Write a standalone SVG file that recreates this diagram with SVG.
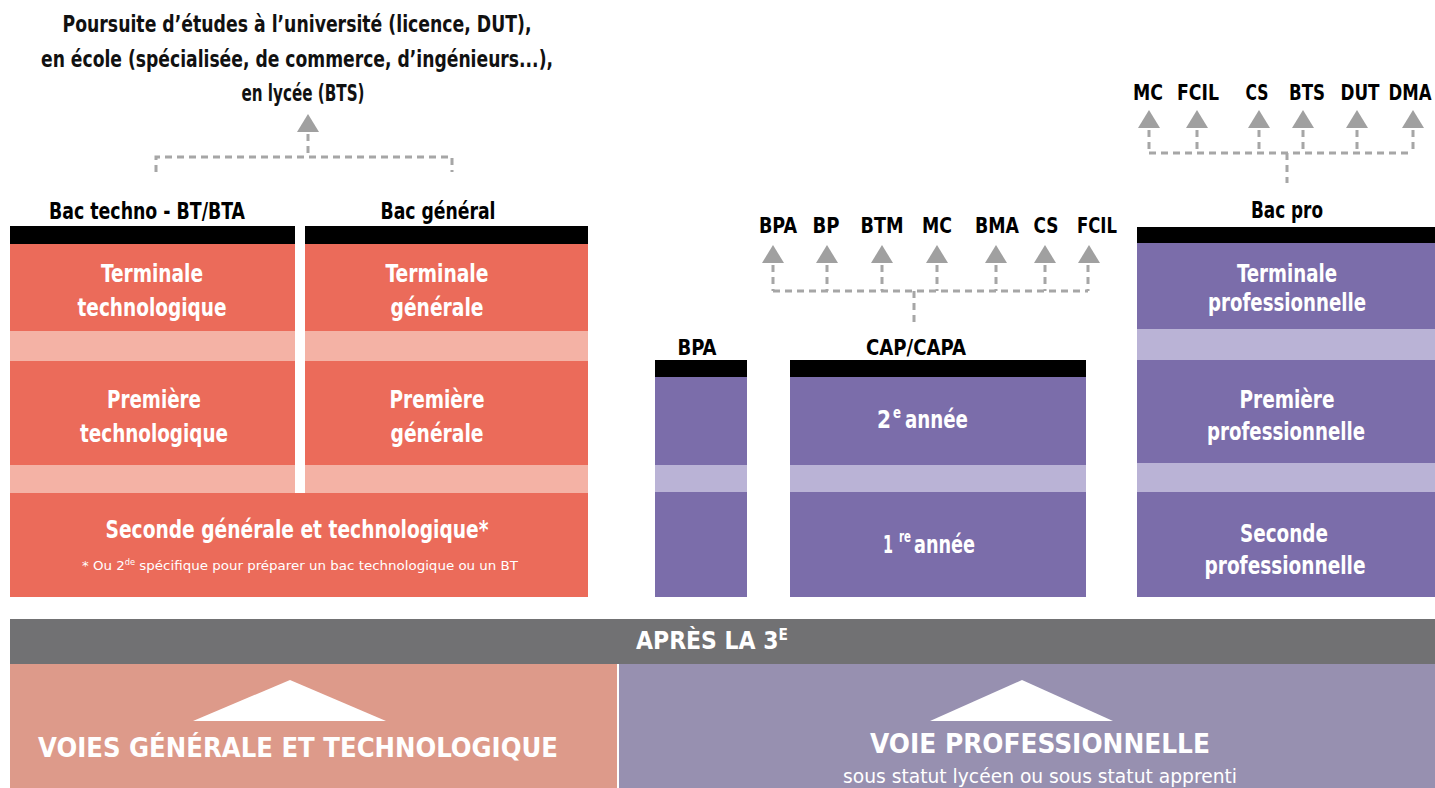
<svg xmlns="http://www.w3.org/2000/svg" width="1435" height="788" viewBox="0 0 1435 788">
<style>
text{font-family:"DejaVu Sans Condensed","Liberation Sans Narrow","Liberation Sans",sans-serif;text-anchor:middle}
.t{font-size:23px;fill:#111;font-weight:600}
.h{font-size:23px;fill:#000;font-weight:bold}
.lab{font-size:21px;fill:#000;font-weight:bold}
.w{font-size:25px;fill:#fff;font-weight:bold}
.s{text-anchor:start}
.sup{font-size:15px;fill:#fff;font-weight:bold;text-anchor:start}
.fn{font-size:13px;fill:#fff}
.ban{font-size:24px;fill:#fff;font-weight:bold}
.big{font-size:26px;fill:#fff;font-weight:bold}
.sub{font-size:20px;fill:#fff}
.red{fill:#EB6B5A}.redl{fill:#F4B2A5}
.pur{fill:#7B6DAA}.purl{fill:#BAB3D6}
.bar{fill:#000}
.dash{fill:none;stroke:#A6A6A6;stroke-width:3;stroke-dasharray:7 5}
.arr{fill:#A0A0A0}
</style>
<rect width="1435" height="788" fill="#fff"/>

<g id="title">
<text class="t" x="297" y="32" textLength="469" lengthAdjust="spacingAndGlyphs">Poursuite d’études à l’université (licence, DUT),</text>
<text class="t" x="297" y="67" textLength="512" lengthAdjust="spacingAndGlyphs">en école (spécialisée, de commerce, d’ingénieurs...),</text>
<text class="t" x="303" y="101" textLength="123" lengthAdjust="spacingAndGlyphs">en lycée (BTS)</text>
</g>

<g id="connectors">
<path class="dash" d="M308 134V157M156 172V157H452V172"/>
<polygon class="arr" points="308,114 297,132 319,132"/>
<path class="dash" d="M773 265V291M827 265V291M882 265V291M937 265V291M996 265V291M1045 265V291M1088 265V291M773 291H1088M914 291V323"/>
<polygon class="arr" points="773,245 762,263 784,263"/>
<polygon class="arr" points="827,245 816,263 838,263"/>
<polygon class="arr" points="882,245 871,263 893,263"/>
<polygon class="arr" points="937,245 926,263 948,263"/>
<polygon class="arr" points="996,245 985,263 1007,263"/>
<polygon class="arr" points="1045,245 1034,263 1056,263"/>
<polygon class="arr" points="1089,245 1078,263 1100,263"/>
<path class="dash" d="M1149 130V153M1197 130V153M1259 130V153M1303 130V153M1357 130V153M1413 130V153M1149 153H1413M1287 153V183"/>
<polygon class="arr" points="1149,110 1138,128 1160,128"/>
<polygon class="arr" points="1197,110 1186,128 1208,128"/>
<polygon class="arr" points="1259,110 1248,128 1270,128"/>
<polygon class="arr" points="1303,110 1292,128 1314,128"/>
<polygon class="arr" points="1357,110 1346,128 1368,128"/>
<polygon class="arr" points="1413,110 1402,128 1424,128"/>
</g>

<g id="bac-techno">
<text class="h" x="147" y="219" textLength="196" lengthAdjust="spacingAndGlyphs">Bac techno - BT/BTA</text>
<rect class="bar" x="10" y="226" width="285" height="18"/>
<rect class="red" x="10" y="244" width="285" height="87"/>
<rect class="redl" x="10" y="331" width="285" height="30"/>
<rect class="red" x="10" y="361" width="285" height="104"/>
<rect class="redl" x="10" y="465" width="285" height="28"/>
<text class="w" x="152" y="282" textLength="102" lengthAdjust="spacingAndGlyphs">Terminale</text>
<text class="w" x="152" y="316" textLength="149" lengthAdjust="spacingAndGlyphs">technologique</text>
<text class="w" x="154" y="408" textLength="94" lengthAdjust="spacingAndGlyphs">Première</text>
<text class="w" x="154" y="442" textLength="148" lengthAdjust="spacingAndGlyphs">technologique</text>
</g>

<g id="bac-general">
<text class="h" x="438" y="219" textLength="115" lengthAdjust="spacingAndGlyphs">Bac général</text>
<rect class="bar" x="305" y="226" width="283" height="18"/>
<rect class="red" x="305" y="244" width="283" height="87"/>
<rect class="redl" x="305" y="331" width="283" height="30"/>
<rect class="red" x="305" y="361" width="283" height="104"/>
<rect class="redl" x="305" y="465" width="283" height="28"/>
<text class="w" x="437" y="282" textLength="103" lengthAdjust="spacingAndGlyphs">Terminale</text>
<text class="w" x="437" y="316" textLength="93" lengthAdjust="spacingAndGlyphs">générale</text>
<text class="w" x="437" y="408" textLength="95" lengthAdjust="spacingAndGlyphs">Première</text>
<text class="w" x="437" y="442" textLength="93" lengthAdjust="spacingAndGlyphs">générale</text>
</g>

<g id="seconde-gt">
<rect class="red" x="10" y="493" width="578" height="104"/>
<text class="w" x="297" y="538" textLength="383" lengthAdjust="spacingAndGlyphs">Seconde générale et technologique*</text>
<text class="fn" x="300" y="570" textLength="436" lengthAdjust="spacingAndGlyphs">* Ou 2<tspan font-size="8" dy="-5">de</tspan><tspan dy="5"> spécifique pour préparer un bac technologique ou un BT</tspan></text>
</g>

<g id="debouches-cap">
<text class="lab" x="778" y="233" textLength="38" lengthAdjust="spacingAndGlyphs">BPA</text>
<text class="lab" x="826" y="233" textLength="27" lengthAdjust="spacingAndGlyphs">BP</text>
<text class="lab" x="882" y="233" textLength="43" lengthAdjust="spacingAndGlyphs">BTM</text>
<text class="lab" x="937" y="233" textLength="30" lengthAdjust="spacingAndGlyphs">MC</text>
<text class="lab" x="997" y="233" textLength="44" lengthAdjust="spacingAndGlyphs">BMA</text>
<text class="lab" x="1046" y="233" textLength="25" lengthAdjust="spacingAndGlyphs">CS</text>
<text class="lab" x="1097" y="233" textLength="40" lengthAdjust="spacingAndGlyphs">FCIL</text>
</g>

<g id="bpa">
<text class="lab" x="697" y="355" textLength="39" lengthAdjust="spacingAndGlyphs">BPA</text>
<rect class="bar" x="655" y="360" width="92" height="17"/>
<rect class="pur" x="655" y="377" width="92" height="88"/>
<rect class="purl" x="655" y="465" width="92" height="27"/>
<rect class="pur" x="655" y="492" width="92" height="105"/>
</g>

<g id="cap">
<text class="lab" x="916" y="355" textLength="100" lengthAdjust="spacingAndGlyphs">CAP/CAPA</text>
<rect class="bar" x="790" y="360" width="296" height="17"/>
<rect class="pur" x="790" y="377" width="296" height="88"/>
<rect class="purl" x="790" y="465" width="296" height="27"/>
<rect class="pur" x="790" y="492" width="296" height="105"/>
<text class="w s" x="877" y="428" textLength="14" lengthAdjust="spacingAndGlyphs">2</text>
<text class="sup" x="893" y="418" textLength="8" lengthAdjust="spacingAndGlyphs">e</text>
<text class="w s" x="905" y="428" textLength="63" lengthAdjust="spacingAndGlyphs">année</text>
<text class="w s" x="883" y="553" textLength="10" lengthAdjust="spacingAndGlyphs">1</text>
<text class="sup" x="899" y="542" textLength="12" lengthAdjust="spacingAndGlyphs">re</text>
<text class="w s" x="914" y="553" textLength="61" lengthAdjust="spacingAndGlyphs">année</text>
</g>

<g id="debouches-bacpro">
<text class="lab" x="1148" y="100" textLength="30" lengthAdjust="spacingAndGlyphs">MC</text>
<text class="lab" x="1198" y="100" textLength="42" lengthAdjust="spacingAndGlyphs">FCIL</text>
<text class="lab" x="1257" y="100" textLength="23" lengthAdjust="spacingAndGlyphs">CS</text>
<text class="lab" x="1307" y="100" textLength="36" lengthAdjust="spacingAndGlyphs">BTS</text>
<text class="lab" x="1360" y="100" textLength="39" lengthAdjust="spacingAndGlyphs">DUT</text>
<text class="lab" x="1410" y="100" textLength="43" lengthAdjust="spacingAndGlyphs">DMA</text>
</g>

<g id="bac-pro">
<text class="h" x="1287" y="218" textLength="72" lengthAdjust="spacingAndGlyphs">Bac pro</text>
<rect class="bar" x="1137" y="227" width="298" height="16"/>
<rect class="pur" x="1137" y="243" width="298" height="86"/>
<rect class="purl" x="1137" y="329" width="298" height="31"/>
<rect class="pur" x="1137" y="360" width="298" height="103"/>
<rect class="purl" x="1137" y="463" width="298" height="29"/>
<rect class="pur" x="1137" y="492" width="298" height="105"/>
<text class="w" x="1287" y="282" textLength="100" lengthAdjust="spacingAndGlyphs">Terminale</text>
<text class="w" x="1287" y="311" textLength="158" lengthAdjust="spacingAndGlyphs">professionnelle</text>
<text class="w" x="1287" y="408" textLength="95" lengthAdjust="spacingAndGlyphs">Première</text>
<text class="w" x="1286" y="440" textLength="158" lengthAdjust="spacingAndGlyphs">professionnelle</text>
<text class="w" x="1284" y="542" textLength="88" lengthAdjust="spacingAndGlyphs">Seconde</text>
<text class="w" x="1285" y="574" textLength="161" lengthAdjust="spacingAndGlyphs">professionnelle</text>
</g>

<g id="apres-3e">
<rect x="10" y="619" width="1425" height="45" fill="#717173"/>
<text class="ban" x="712" y="649" textLength="152" lengthAdjust="spacingAndGlyphs">APRÈS LA 3<tspan font-size="15" dy="-9">E</tspan></text>
</g>

<g id="voies-gt">
<rect x="10" y="664" width="607" height="124" fill="#DD9A8A"/>
<polygon points="290,680 193,721 386,721" fill="#fff"/>
<text class="big" x="298" y="757" textLength="520" lengthAdjust="spacingAndGlyphs">VOIES GÉNÉRALE ET TECHNOLOGIQUE</text>
</g>

<g id="voie-pro">
<rect x="619" y="664" width="816" height="124" fill="#9790B0"/>
<polygon points="1022,680 930,721 1113,721" fill="#fff"/>
<text class="big" x="1040" y="753" textLength="340" lengthAdjust="spacingAndGlyphs">VOIE PROFESSIONNELLE</text>
<text class="sub" x="1040" y="783" textLength="394" lengthAdjust="spacingAndGlyphs">sous statut lycéen ou sous statut apprenti</text>
</g>
</svg>
